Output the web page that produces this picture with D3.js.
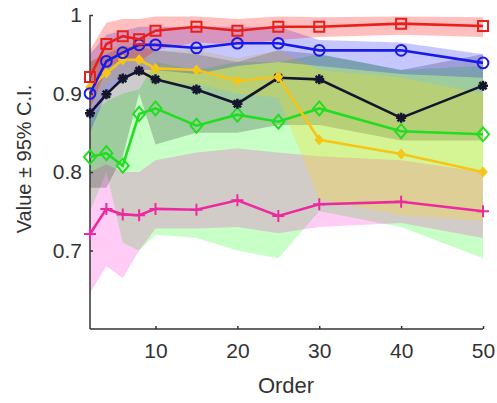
<!DOCTYPE html>
<html>
<head>
<meta charset="utf-8">
<script src="https://cdn.jsdelivr.net/npm/d3@7"></script>
<style>
  body { margin: 0; background: #fff; }
  text { font-family: "Liberation Sans", Arial, sans-serif; fill: #333; }
</style>
</head>
<body>
<script>
// data
const order = [2, 4, 6, 8, 10, 15, 20, 25, 30, 40, 50];

const redVal = [0.921, 0.963, 0.973, 0.969, 0.980, 0.985, 0.980, 0.985, 0.985, 0.989, 0.986];
const redLo  = [0.880, 0.930, 0.945, 0.940, 0.955, 0.965, 0.962, 0.968, 0.972, 0.975, 0.972];
const redHi  = [0.955, 0.990, 0.995, 0.995, 0.998, 0.998, 0.995, 0.998, 0.997, 0.998, 0.997];

const blueVal = [0.900, 0.941, 0.952, 0.962, 0.962, 0.958, 0.964, 0.964, 0.955, 0.955, 0.939];
const blueLo  = [0.850, 0.900, 0.915, 0.930, 0.930, 0.925, 0.935, 0.940, 0.935, 0.925, 0.920];
const blueHi  = [0.950, 0.975, 0.980, 0.985, 0.985, 0.985, 0.985, 0.985, 0.968, 0.965, 0.950];

const blackVal = [0.875, 0.899, 0.919, 0.929, 0.918, 0.905, 0.887, 0.920, 0.918, 0.869, 0.910];
const blackLo  = [0.780, 0.780, 0.820, 0.900, 0.835, 0.850, 0.850, 0.860, 0.860, 0.840, 0.840];
const blackHi  = [0.940, 0.950, 0.960, 0.960, 0.955, 0.950, 0.940, 0.955, 0.950, 0.930, 0.950];

const yellowVal = [0.908, 0.926, 0.943, 0.943, 0.932, 0.930, 0.916, 0.921, 0.841, 0.823, 0.800];
const yellowLo  = [0.880, 0.910, 0.925, 0.925, 0.915, 0.912, 0.900, 0.895, 0.765, 0.745, 0.738];
const yellowHi  = [0.940, 0.955, 0.965, 0.965, 0.955, 0.955, 0.945, 0.955, 0.930, 0.920, 0.900];

const greenVal = [0.819, 0.824, 0.808, 0.874, 0.881, 0.859, 0.873, 0.864, 0.881, 0.852, 0.848];
const greenLo  = [0.750, 0.800, 0.710, 0.700, 0.720, 0.716, 0.700, 0.690, 0.750, 0.730, 0.690];
const greenHi  = [0.870, 0.890, 0.900, 0.905, 0.940, 0.930, 0.940, 0.940, 0.950, 0.930, 0.935];

const magVal = [0.721, 0.753, 0.746, 0.745, 0.753, 0.752, 0.764, 0.744, 0.759, 0.762, 0.750];
const magLo  = [0.646, 0.680, 0.665, 0.700, 0.728, 0.728, 0.730, 0.722, 0.730, 0.735, 0.716];
const magHi  = [0.800, 0.810, 0.800, 0.800, 0.815, 0.825, 0.830, 0.825, 0.820, 0.815, 0.800];

const xTicks = [10, 20, 30, 40, 50];
const yTicks = [0.7, 0.8, 0.9, 1];

const series = [
  {val: greenVal, lo: greenLo, hi: greenHi, color: "#22dd22", band: "#00ff00", alpha: 0.22, marker: "diamond"},
  {val: magVal, lo: magLo, hi: magHi, color: "#ec2aa0", band: "#ff00cc", alpha: 0.2, marker: "plus"},
  {val: blackVal, lo: blackLo, hi: blackHi, color: "#151530", band: "#000000", alpha: 0.2, marker: "asterisk"},
  {val: yellowVal, lo: yellowLo, hi: yellowHi, color: "#f5c518", band: "#ffd800", alpha: 0.25, marker: "smalldiamond"},
  {val: blueVal, lo: blueLo, hi: blueHi, color: "#1a1ae8", band: "#0000ff", alpha: 0.22, marker: "circle"},
  {val: redVal, lo: redLo, hi: redHi, color: "#e8201c", band: "#ff0000", alpha: 0.25, marker: "square"}
];

const W = 497, H = 403;
const svg = d3.select("body").append("svg").attr("width", W).attr("height", H);

const x = d3.scaleLinear().domain([2, 50]).range([90, 483]);
const y = d3.scaleLinear().domain([0.6, 1]).range([329, 15]);

// bands
const area = d3.area()
  .x((d, i) => x(order[i]))
  .y0(d => y(d[0]))
  .y1(d => y(d[1]));

series.forEach(s => {
  svg.append("path")
    .datum(s.lo.map((l, i) => [l, s.hi[i]]))
    .attr("d", area)
    .attr("fill", s.band)
    .attr("fill-opacity", s.alpha)
    .attr("stroke", "none");
});

// axes
const xAxis = d3.axisBottom(x).tickValues(xTicks).tickSize(-3).tickPadding(14).tickSizeOuter(0);
const yAxis = d3.axisLeft(y).tickValues(yTicks).tickSize(-3).tickPadding(8).tickSizeOuter(0)
  .tickFormat(d => d === 1 ? "1" : d3.format(".1f")(d));

const gx = svg.append("g").attr("transform", "translate(0,329)").call(xAxis);
const gy = svg.append("g").attr("transform", "translate(90,0)").call(yAxis);
[gx, gy].forEach(g => {
  g.select(".domain").attr("stroke", "#333").attr("stroke-width", 1.5);
  g.selectAll(".tick line").attr("stroke", "#333").attr("stroke-width", 1.5);
  g.selectAll(".tick text").attr("font-size", 21).attr("fill", "#333")
    .attr("font-family", "Liberation Sans, Arial, sans-serif");
});
gx.select(".domain").attr("d", "M90,0H483");
gy.select(".domain").attr("d", "M0,15V329");

svg.append("text").attr("x", 286).attr("y", 393).attr("text-anchor", "middle")
  .attr("font-size", 22).text("Order");
svg.append("text").attr("transform", "translate(31,159) rotate(-90)")
  .attr("text-anchor", "middle").attr("font-size", 20).text("Value ± 95% C.I.");

// marker shapes
function markerPath(type) {
  switch (type) {
    case "square": return "M-5,-5H5V5H-5Z";
    case "circle": return d3.symbol(d3.symbolCircle, 90)();
    case "diamond": return "M0,-7L6,0L0,7L-6,0Z";
    case "smalldiamond": return "M0,-4L3.5,0L0,4L-3.5,0Z";
    case "plus": return "M-6,0H6M0,-6V6";
    case "asterisk": return "M-5,0H5M0,-5V5M-3.6,-3.6L3.6,3.6M-3.6,3.6L3.6,-3.6";
  }
}

const line = d3.line().x((d, i) => x(order[i])).y(d => y(d));

series.forEach(s => {
  svg.append("path").datum(s.val).attr("d", line)
    .attr("fill", "none").attr("stroke", s.color).attr("stroke-width", 2.6);
  svg.append("g").selectAll("path").data(s.val).enter().append("path")
    .attr("transform", (d, i) => `translate(${x(order[i])},${y(d)})`)
    .attr("d", markerPath(s.marker))
    .attr("fill", s.marker === "smalldiamond" ? s.color : "none")
    .attr("stroke", s.color)
    .attr("stroke-width", s.marker === "asterisk" ? 2.5 : 2);
});
</script>
</body>
</html>
